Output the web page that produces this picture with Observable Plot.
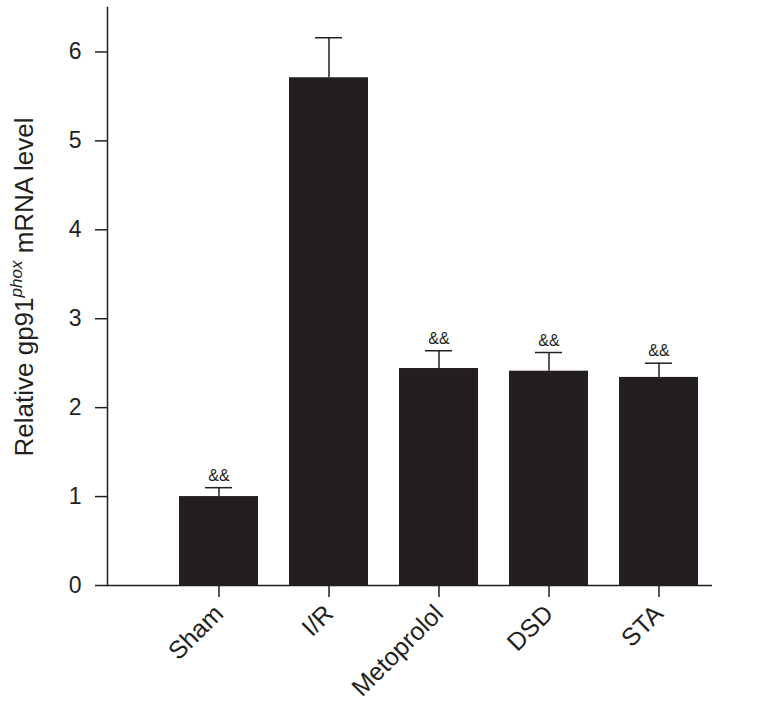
<!DOCTYPE html>
<html>
<head>
<meta charset="utf-8">
<script src="https://cdn.jsdelivr.net/npm/d3@7"></script>
<script src="https://cdn.jsdelivr.net/npm/@observablehq/plot@0.6"></script>
<style>
  body { margin: 0; background: #fff; }
  #chart { width: 776px; height: 705px; }
</style>
</head>
<body>
<div id="chart"></div>
<script>
const groups = ["Sham", "I/R", "Metoprolol", "DSD", "STA"];
const means = [1.00, 5.71, 2.44, 2.41, 2.34];
const errTops = [1.10, 6.16, 2.64, 2.62, 2.50];
const marks = ["&&", "", "&&", "&&", "&&"];
const yTicks = [0, 1, 2, 3, 4, 5, 6];

const data = groups.map((g, i) => ({ group: g, mean: means[i], err: errTops[i], sig: marks[i] }));

const ink = "#231f20";
const font = "Liberation Sans, Arial, Helvetica, sans-serif";

const plot = Plot.plot({
  width: 776,
  height: 705,
  marginLeft: 107,
  marginRight: 64,
  marginTop: 7,
  marginBottom: 120,
  style: { fontFamily: font, color: ink, background: "#fff" },
  x: { domain: groups, range: [163, 713], paddingInner: 0.282, paddingOuter: 0.141, label: null },
  y: { domain: [0, 6.5], label: null },
  marks: [
    Plot.barY(data, { x: "group", y: "mean", fill: ink }),
    Plot.ruleX(data, { x: "group", y1: "mean", y2: "err", stroke: ink, strokeWidth: 1.5 }),
    Plot.tickY(data, { x: "group", y: "err", stroke: ink, strokeWidth: 1.5, insetLeft: 26, insetRight: 26 }),
    Plot.text(data, { x: "group", y: "err", text: "sig", dy: -12, fontSize: 16, fill: ink }),
    Plot.ruleY([0], { stroke: ink, strokeWidth: 1.5 }),
    Plot.frame({ anchor: "left", stroke: ink, strokeWidth: 1.5 }),
    Plot.axisY({ ticks: yTicks, tickFormat: d3.format("d"), tickSize: 12, tickPadding: 14, fontSize: 23, stroke: ink, strokeWidth: 1.5, label: null }),
    Plot.axisX({ tickSize: 12, tickPadding: 12, tickRotate: -45, fontSize: 25, stroke: ink, strokeWidth: 1.5, label: null })
  ]
});

document.getElementById("chart").appendChild(plot);

// Y axis title with italic superscript
const svg = d3.select(plot);
const t = svg.append("text")
  .attr("transform", "translate(33,287) rotate(-90)")
  .attr("text-anchor", "middle")
  .attr("font-family", font)
  .attr("font-size", 26)
  .attr("fill", ink);
t.append("tspan").text("Relative gp91");
t.append("tspan").attr("font-style", "italic").attr("font-size", 17).attr("dy", -11).text("phox");
t.append("tspan").attr("dy", 11).text(" mRNA level");
</script>
</body>
</html>
